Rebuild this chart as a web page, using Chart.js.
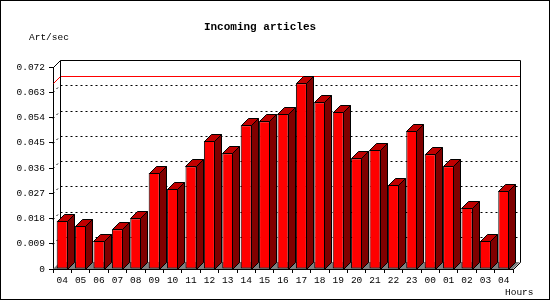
<!DOCTYPE html>
<html>
<head>
<meta charset="utf-8">
<script src="https://cdn.jsdelivr.net/npm/chart.js@4/dist/chart.umd.min.js"></script>
<style>
html,body{margin:0;padding:0;background:#fff;}
canvas{display:block;}
</style>
</head>
<body>
<canvas id="c" width="550" height="300"></canvas>
<script>
// ---- data ----
const hours = ['04','05','06','07','08','09','10','11','12','13','14','15','16','17','18','19','20','21','22','23','00','01','02','03','04'];
const artPerSec = [0.0172,0.0153,0.0101,0.0142,0.0181,0.0342,0.0285,0.0366,0.0456,0.0413,0.0512,0.0527,0.0553,0.0662,0.0594,0.0560,0.0395,0.0424,0.0299,0.0492,0.0409,0.0366,0.0217,0.0100,0.0278];
const yTickValues = [0,0.009,0.018,0.027,0.036,0.045,0.054,0.063,0.072];
const yTickLabels = ['0','0.009','0.018','0.027','0.036','0.045','0.054','0.063','0.072'];
const titleText = 'Incoming articles';
const yUnitText = 'Art/sec';
const xUnitText = 'Hours';
const maxRate = Math.max(...artPerSec);

// ---- style ----
const DX = 7, DY = 7;
const FONT = '"Liberation Mono", "DejaVu Sans Mono", monospace';

const threeD = {
  id: 'threeD',
  beforeDatasetsDraw(chart) {
    const {ctx, chartArea: a, scales: {y}} = chart;
    const L = a.left, R = a.right, T = a.top, B = a.bottom;
    ctx.save();
    ctx.lineWidth = 1;
    // floor
    ctx.fillStyle = '#808080';
    ctx.beginPath();
    ctx.moveTo(L, B); ctx.lineTo(R, B); ctx.lineTo(R + DX, B - DY); ctx.lineTo(L + DX, B - DY);
    ctx.closePath(); ctx.fill();
    // dotted grid on back wall
    ctx.strokeStyle = '#000';
    ctx.setLineDash([2, 3]);
    yTickValues.forEach(v => {
      if (v <= 0 || v >= y.max) return;
      const py = Math.round(y.getPixelForValue(v)) + 0.5;
      ctx.beginPath();
      ctx.moveTo(L + DX + 0.5, py - DY); ctx.lineTo(R + DX, py - DY);
      ctx.moveTo(L, py); ctx.lineTo(L + DX, py - DY);
      ctx.stroke();
    });
    ctx.setLineDash([]);
    // max line
    const pm = Math.round(y.getPixelForValue(maxRate)) + 0.5;
    ctx.strokeStyle = '#ff0000';
    ctx.beginPath();
    ctx.moveTo(L + 0.5, pm); ctx.lineTo(L + DX + 0.5, pm - DY); ctx.lineTo(R + DX + 0.5, pm - DY);
    ctx.stroke();
    // back frame
    ctx.strokeStyle = '#000';
    ctx.beginPath();
    ctx.moveTo(L + 0.5, T + 0.5); ctx.lineTo(L + DX + 0.5, T - DY + 0.5);
    ctx.lineTo(R + DX + 0.5, T - DY + 0.5); ctx.lineTo(R + DX + 0.5, B - DY + 0.5);
    ctx.lineTo(R + 0.5, B + 0.5);
    ctx.moveTo(L + DX + 0.5, T - DY + 0.5); ctx.lineTo(L + DX + 0.5, B - DY + 0.5);
    ctx.stroke();
    ctx.restore();
  },
  afterDatasetsDraw(chart) {
    const {ctx} = chart;
    const meta = chart.getDatasetMeta(0);
    ctx.save();
    ctx.lineWidth = 1;
    ctx.strokeStyle = '#000';
    meta.data.forEach(bar => {
      const p = bar.getProps(['x', 'y', 'base', 'width'], true);
      const l = Math.round(p.x - p.width / 2) + 0.5;
      const r = Math.round(p.x + p.width / 2) - 0.5;
      const t = Math.round(p.y) + 0.5;
      const b = Math.round(p.base) + 0.5;
      // top face
      ctx.fillStyle = '#c00000';
      ctx.beginPath();
      ctx.moveTo(l, t); ctx.lineTo(l + DX, t - DY); ctx.lineTo(r + DX, t - DY); ctx.lineTo(r, t);
      ctx.closePath(); ctx.fill(); ctx.stroke();
      // side face
      ctx.fillStyle = '#800000';
      ctx.beginPath();
      ctx.moveTo(r, t); ctx.lineTo(r + DX, t - DY); ctx.lineTo(r + DX, b - DY); ctx.lineTo(r, b);
      ctx.closePath(); ctx.fill(); ctx.stroke();
    });
    ctx.restore();
  },
  afterDraw(chart) {
    const {ctx} = chart;
    ctx.save();
    ctx.fillStyle = '#000';
    ctx.textBaseline = 'middle';
    ctx.font = 'bold 11px ' + FONT;
    ctx.textAlign = 'center';
    ctx.fillText(titleText, 260, 27);
    ctx.font = '9.5px ' + FONT;
    ctx.textAlign = 'left';
    ctx.fillText(yUnitText, 29, 37);
    ctx.fillText(xUnitText, 505, 292);
    ctx.strokeStyle = '#000';
    ctx.lineWidth = 1;
    ctx.strokeRect(0.5, 0.5, 549, 299);
    ctx.restore();
  }
};

Chart.defaults.font.family = FONT;
Chart.defaults.font.size = 9.5;
Chart.defaults.color = '#000';

new Chart(document.getElementById('c'), {
  type: 'bar',
  data: {
    labels: hours,
    datasets: [{
      data: artPerSec,
      backgroundColor: '#ff0000',
      borderColor: '#000',
      borderWidth: 1,
      borderSkipped: false,
      categoryPercentage: 1.0,
      barPercentage: 0.6
    }]
  },
  options: {
    responsive: false,
    animation: false,
    layout: {padding: {top: 67, right: 37, left: 0, bottom: 0}},
    plugins: {legend: {display: false}, tooltip: {enabled: false}, title: {display: false}},
    scales: {
      x: {
        afterFit(s) { s.height = 31; },
        grid: {drawOnChartArea: false, drawTicks: true, tickLength: 4, color: '#000', offset: true},
        border: {display: true, color: '#000', width: 1},
        ticks: {padding: 2, maxRotation: 0, autoSkip: false, font: {size: 9.5}}
      },
      y: {
        min: 0,
        max: 0.072,
        afterFit(s) { s.width = 53; },
        afterBuildTicks(s) { s.ticks = yTickValues.map(v => ({value: v})); },
        grid: {drawOnChartArea: false, drawTicks: true, tickLength: 4, color: '#000'},
        border: {display: true, color: '#000', width: 1},
        ticks: {padding: 4, font: {size: 9.5}, callback: (v, i) => yTickLabels[i]}
      }
    }
  },
  plugins: [threeD]
});
</script>
</body>
</html>
